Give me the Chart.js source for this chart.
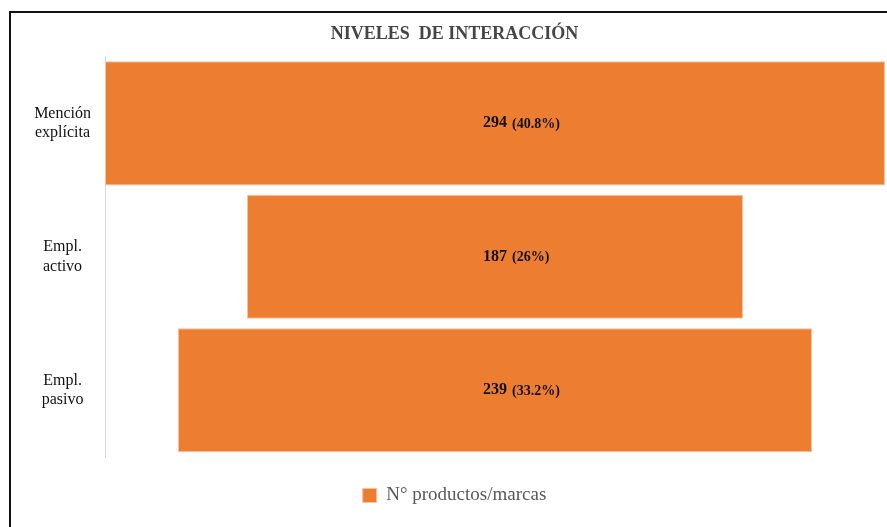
<!DOCTYPE html>
<html>
<head>
<meta charset="utf-8">
<script src="https://cdn.jsdelivr.net/npm/chart.js@4"></script>
<style>
  html, body { margin: 0; padding: 0; background: #fff; overflow: hidden; }
  #frame { position: absolute; left: 9px; top: 11px; width: 900px; height: 540px; border: 2px solid #111; }
  #wrap { position: absolute; left: 0; top: 0; width: 887px; height: 527px; }
</style>
</head>
<body>
<div id="frame"></div>
<div id="wrap"><canvas id="funnel"></canvas></div>
<script>
// Datos del gráfico
const categories = [['Mención', 'explícita'], ['Empl.', 'activo'], ['Empl.', 'pasivo']];
const values = [294, 187, 239];
const percents = ['(40.8%)', '(26%)', '(33.2%)'];
const seriesName = 'N° productos/marcas';

const orange = '#ED7D31';
const half = Math.max(...values) / 2;

// Etiquetas dentro de las barras
const barLabels = {
    id: 'barLabels',
    afterDatasetsDraw(chart) {
        const ctx = chart.ctx;
        const meta = chart.getDatasetMeta(0);
        const xs = chart.scales.x;
        ctx.save();
        ctx.fillStyle = '#111';
        ctx.textBaseline = 'middle';
        meta.data.forEach((bar, i) => {
            const x0 = xs.getPixelForValue(0) - 12;
            ctx.font = 'bold 16px "Liberation Serif"';
            ctx.textAlign = 'left';
            const main = String(values[i]);
            ctx.fillText(main, x0, bar.y);
            const w = ctx.measureText(main).width;
            ctx.font = 'bold 14px "Liberation Serif"';
            ctx.fillText(percents[i], x0 + w + 5, bar.y + 1);
        });
        ctx.restore();
    }
};

new Chart(document.getElementById('funnel'), {
    type: 'bar',
    data: {
        labels: categories,
        datasets: [{
            label: seriesName,
            data: values.map(v => [-v / 2, v / 2]),
            backgroundColor: orange,
            borderColor: '#f7c39d',
            borderWidth: 1,
            borderSkipped: false,
            barPercentage: 0.93,
            categoryPercentage: 1
        }]
    },
    options: {
        indexAxis: 'y',
        responsive: true,
        maintainAspectRatio: false,
        animation: false,
        layout: { padding: { left: 24, right: 2, top: 0, bottom: 12 } },
        scales: {
            x: {
                min: -half,
                max: half,
                grid: { display: false },
                border: { display: false },
                ticks: { display: false },
                afterFit: s => { s.height = 19; }
            },
            y: {
                grid: { display: false },
                border: { color: '#d9d9d9', width: 1 },
                ticks: {
                    crossAlign: 'center',
                    color: '#111',
                    font: { family: 'Liberation Serif', size: 16 },
                    padding: 6
                },
                afterFit: s => { s.width = 81; }
            }
        },
        plugins: {
            title: {
                display: true,
                text: 'NIVELES  DE INTERACCIÓN',
                color: '#454545',
                font: { family: 'Liberation Serif', size: 18, weight: 'bold' },
                padding: { top: 24, bottom: 11 }
            },
            legend: {
                position: 'bottom',
                labels: {
                    boxWidth: 14,
                    boxHeight: 14,
                    color: '#595959',
                    font: { family: 'Liberation Serif', size: 19 },
                    padding: 10
                }
            },
            tooltip: { enabled: false }
        }
    },
    plugins: [barLabels]
});
</script>
</body>
</html>
